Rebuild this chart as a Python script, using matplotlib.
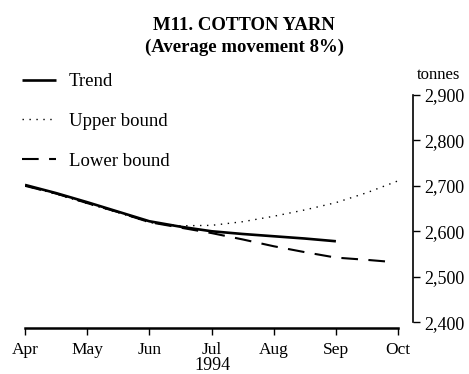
import matplotlib.pyplot as plt
from matplotlib.ticker import FuncFormatter

plt.rcParams['font.family'] = ['Liberation Serif', 'DejaVu Serif']

# x positions are months counted from April 1994
months = ['Apr', 'May', 'Jun', 'Jul', 'Aug', 'Sep', 'Oct']

trend_x = [0, 0.5, 1, 1.5, 2, 2.5, 3, 3.5, 4, 4.5, 5]
trend_y = [2702, 2684, 2664, 2643, 2622, 2610, 2600, 2594, 2589, 2584, 2578]

upper_x = [0, 0.5, 1, 1.5, 2, 2.5, 3, 3.5, 4, 4.5, 5, 5.5, 6]
upper_y = [2700, 2682, 2661, 2641, 2619, 2612, 2613, 2621, 2633, 2647, 2663, 2685, 2711]

lower_x = [0, 0.5, 1, 1.5, 2, 2.5, 3, 3.5, 4, 4.5, 5, 5.5, 5.85]
lower_y = [2700, 2683, 2662, 2642, 2620, 2608, 2596, 2582, 2567, 2554, 2542, 2537, 2533]

fig = plt.figure(figsize=(4.69, 3.74), dpi=100)
ax = fig.add_axes([25 / 469, 1 - 328 / 374, (413 - 25) / 469, (328 - 95) / 374])

l_trend, = ax.plot(trend_x, trend_y, color='black', lw=1.9, solid_capstyle='butt')
l_upper, = ax.plot(upper_x, upper_y, color='black', lw=1.0, linestyle=(0, (1, 4)))
l_lower, = ax.plot(lower_x, lower_y, color='black', lw=1.5, linestyle=(0, (8, 5)))

ax.set_xlim(0, 6.24)
ax.set_ylim(2387, 2900)

ax.spines['top'].set_visible(False)
ax.spines['left'].set_visible(False)
ax.spines['right'].set_bounds(2400, 2900)
ax.spines['bottom'].set_bounds(0, 6)
ax.spines['right'].set_linewidth(1.2)
ax.spines['bottom'].set_linewidth(1.8)

ax.yaxis.tick_right()
ax.set_yticks([2400, 2500, 2600, 2700, 2800, 2900])
ax.yaxis.set_major_formatter(FuncFormatter(lambda v, p: f'{int(v):,}'))
ax.set_xticks(range(7))
ax.set_xticklabels(months)
ax.tick_params(axis='both', direction='out', length=5, width=1, pad=3)
ax.tick_params(axis='y', labelsize=13)
ax.tick_params(axis='x', labelsize=12.5, pad=5)

fig.text(212 / 469, 1 - 365 / 374, '1994', ha='center', va='center', fontsize=13)
fig.text(439 / 469, 1 - 75 / 374, 'tonnes', ha='center', va='center', fontsize=12)

fig.text(244 / 469, 1 - 25 / 374, 'M11. COTTON YARN', ha='center', va='center',
         fontsize=13.5, fontweight='bold')
fig.text(244 / 469, 1 - 47 / 374, '(Average movement 8%)', ha='center', va='center',
         fontsize=13.5, fontweight='bold')

ax.legend([l_trend, l_upper, l_lower], ['Trend', 'Upper bound', 'Lower bound'],
          loc='upper left', bbox_to_anchor=(9 / 469, 1 - 60 / 374), bbox_transform=fig.transFigure,
          frameon=False, fontsize=13.5, labelspacing=1.2, handlelength=1.8,
          handletextpad=0.7, borderaxespad=0.3)

fig.savefig('out.png', dpi=100)
